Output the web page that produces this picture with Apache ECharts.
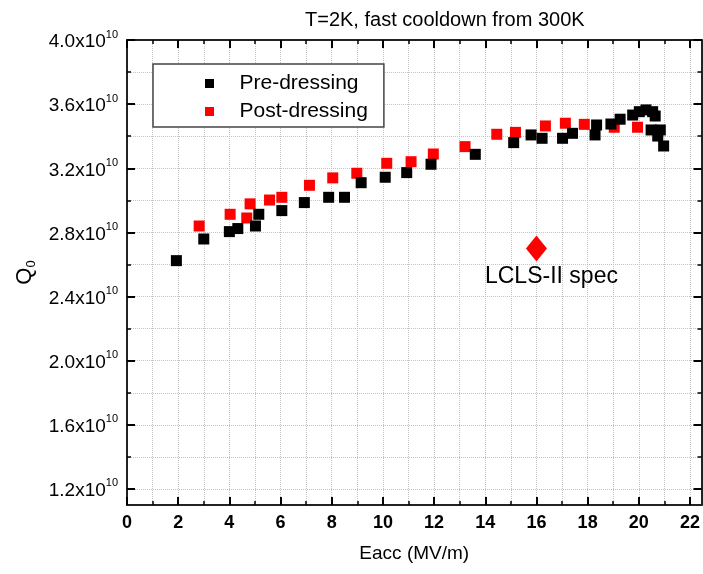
<!DOCTYPE html>
<html>
<head>
<meta charset="utf-8">
<title>Q0 vs Eacc</title>
<script src="https://cdn.jsdelivr.net/npm/echarts@6/dist/echarts.min.js"></script>
<style>
  html, body { margin: 0; padding: 0; background: #fff; }
  #chart { width: 703px; height: 574px; }
</style>
</head>
<body>
<div id="chart"></div>
<script>
// Q0 values are in units of 1e10
const preEacc = [1.93, 3.0, 4.0, 4.33, 5.02, 5.15, 6.05, 6.93, 7.88, 8.5, 9.15, 10.09, 10.93, 11.88, 13.61,
    15.11, 15.79, 16.22, 17.02, 17.41, 18.29, 18.35, 18.91, 19.27, 19.76, 20.02, 20.28, 20.54, 20.64,
    20.48, 20.84, 20.74, 20.97];
const preQ0 = [2.624, 2.759, 2.805, 2.824, 2.84, 2.913, 2.936, 2.986, 3.019, 3.019, 3.11, 3.144, 3.173, 3.225, 3.287,
    3.36, 3.408, 3.387, 3.387, 3.418, 3.408, 3.47, 3.476, 3.506, 3.532, 3.553, 3.564, 3.553, 3.526,
    3.439, 3.439, 3.401, 3.339];

const postEacc = [2.82, 4.03, 4.68, 4.81, 5.57, 6.05, 7.13, 8.04, 8.98, 10.15, 11.1, 11.97, 13.21, 14.45,
    15.18, 16.35, 17.13, 17.87, 19.04, 19.95];
const postQ0 = [2.84, 2.913, 2.89, 2.978, 3.002, 3.019, 3.094, 3.14, 3.169, 3.231, 3.241, 3.289, 3.335, 3.412,
    3.424, 3.464, 3.481, 3.474, 3.456, 3.456];

const specEacc = [16.0];
const specQ0 = [2.7];

const xMajor = [0, 2, 4, 6, 8, 10, 12, 14, 16, 18, 20, 22];
const xMinor = [0, 1, 2, 3, 4, 5, 6, 7, 8, 9, 10, 11, 12, 13, 14, 15, 16, 17, 18, 19, 20, 21, 22];
const yMajor = [1.2, 1.6, 2.0, 2.4, 2.8, 3.2, 3.6, 4.0];
const yMinor = [1.2, 1.4, 1.6, 1.8, 2.0, 2.2, 2.4, 2.6, 2.8, 3.0, 3.2, 3.4, 3.6, 3.8, 4.0];

const FONT = 'Liberation Sans, Arial, sans-serif';
const X_RANGE = [0, 22.45];
const Y_RANGE = [1.1, 4.0];

function zip(xs, ys) {
    return xs.map((x, i) => [x, ys[i]]);
}

// one axis of the frame: either the frame line with short ticks, or an overlay with the long ticks only
function frameAxis(position, range, ticks, major) {
    return {
        type: 'value',
        position: position,
        min: range[0],
        max: range[1],
        axisLine: { show: !major, onZero: false, lineStyle: { color: '#222', width: 2 } },
        axisTick: {
            show: true, inside: true, customValues: ticks,
            length: major ? 8 : 4,
            lineStyle: { color: '#000', width: major ? 2 : 1.5 }
        },
        axisLabel: { show: false },
        splitLine: { show: false }
    };
}

const chart = echarts.init(document.getElementById('chart'), null, { renderer: 'canvas' });

const mainX = frameAxis('bottom', X_RANGE, xMinor, false);
mainX.axisLabel = {
    show: true, customValues: xMajor, margin: 9,
    fontSize: 18, fontWeight: 'bold', color: '#000', fontFamily: FONT
};
mainX.splitLine = { show: true, lineStyle: { type: 'dotted', color: '#c4c4c4', width: 1 } };
mainX.name = 'Eacc (MV/m)';
mainX.nameLocation = 'middle';
mainX.nameGap = 39;
mainX.nameTextStyle = { fontSize: 19, color: '#000', fontFamily: FONT };

const mainY = frameAxis('left', Y_RANGE, yMinor, false);
mainY.axisLabel = {
    show: true, customValues: yMajor, margin: 9,
    formatter: v => '{m|' + v.toFixed(1) + 'x10}{s|10}',
    rich: {
        m: { fontSize: 19, color: '#000', fontFamily: FONT, lineHeight: 22, padding: [4, 0, 0, 0] },
        s: { fontSize: 11, color: '#000', fontFamily: FONT, lineHeight: 11, verticalAlign: 'top' }
    }
};
mainY.splitLine = { show: true, lineStyle: { type: 'dotted', color: '#c4c4c4', width: 1 } };
mainY.name = '{q|Q}{z|0}';
mainY.nameLocation = 'middle';
mainY.nameRotate = 90;
mainY.nameGap = 86;
mainY.nameTextStyle = {
    rich: {
        q: { fontSize: 22, color: '#000', fontFamily: FONT, lineHeight: 26 },
        z: { fontSize: 13, color: '#000', fontFamily: FONT, lineHeight: 26, verticalAlign: 'bottom', padding: [8, 0, 0, 0] }
    }
};

const option = {
    backgroundColor: '#fff',
    animation: false,
    title: {
        text: 'T=2K, fast cooldown from 300K',
        left: 300,
        top: 5,
        textStyle: { fontSize: 20, fontWeight: 'normal', color: '#000', fontFamily: FONT }
    },
    legend: {
        orient: 'vertical',
        left: 153,
        top: 64,
        padding: [9, 16, 5, 52],
        itemGap: 7,
        itemWidth: 50,
        itemHeight: 9,
        icon: 'path://M0,0L1,0L1,1L0,1Z',
        symbolKeepAspect: true,
        borderColor: '#444',
        borderWidth: 1.5,
        backgroundColor: '#fff',
        data: ['Pre-dressing', 'Post-dressing'],
        textStyle: { fontSize: 21, color: '#000', fontFamily: FONT, lineHeight: 21 }
    },
    grid: { left: 127, top: 40, right: 1, bottom: 69 },
    xAxis: [
        mainX,
        frameAxis('bottom', X_RANGE, xMajor, true),
        frameAxis('top', X_RANGE, xMinor, false),
        frameAxis('top', X_RANGE, xMajor, true)
    ],
    yAxis: [
        mainY,
        frameAxis('left', Y_RANGE, yMajor, true),
        frameAxis('right', Y_RANGE, yMinor, false),
        frameAxis('right', Y_RANGE, yMajor, true)
    ],
    series: [
        {
            name: 'Post-dressing',
            type: 'scatter',
            symbol: 'rect',
            symbolSize: 11,
            itemStyle: { color: '#ff0000', opacity: 1 },
            data: zip(postEacc, postQ0),
            z: 3
        },
        {
            name: 'Pre-dressing',
            type: 'scatter',
            symbol: 'rect',
            symbolSize: 11,
            itemStyle: { color: '#000', opacity: 1 },
            data: zip(preEacc, preQ0),
            z: 4
        },
        {
            name: 'LCLS-II spec',
            type: 'scatter',
            symbol: 'diamond',
            symbolSize: [21, 26],
            itemStyle: { color: '#ff0000', opacity: 1 },
            label: {
                show: true,
                position: 'bottom',
                distance: 4,
                offset: [15, 0],
                formatter: 'LCLS-II spec',
                fontSize: 23,
                color: '#000',
                opacity: 1,
                fontFamily: FONT
            },
            data: zip(specEacc, specQ0),
            z: 5
        }
    ]
};

chart.setOption(option);
</script>
</body>
</html>
